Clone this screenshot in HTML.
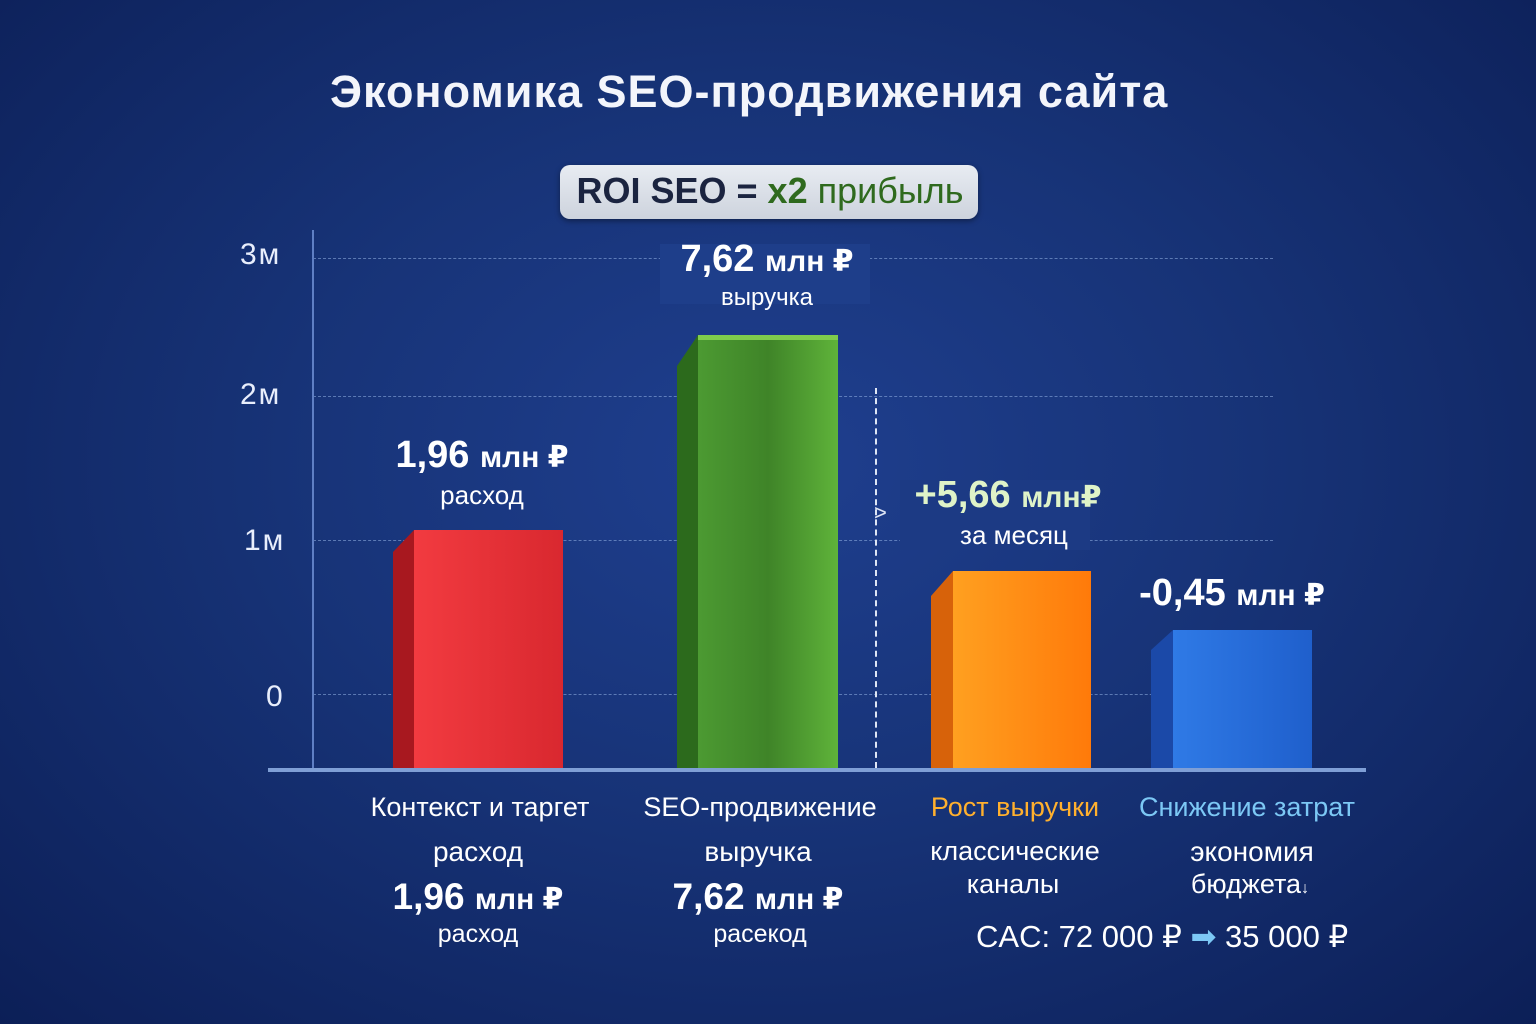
<!DOCTYPE html>
<html><head><meta charset="utf-8"><style>
body{margin:0;width:1536px;height:1024px;overflow:hidden;background:radial-gradient(ellipse at 50% 45%,#1f3f8f 0%,#173377 45%,#0c1f57 100%);font-family:"Liberation Sans","DejaVu Sans",sans-serif;color:#fff;position:relative}
.a{position:absolute;white-space:nowrap}
.c{transform:translateX(-50%);text-align:center}
.g{position:absolute;left:313px;width:960px;border-top:1px dashed rgba(150,180,230,.55)}
.yl{position:absolute;font-size:30px;color:#e8eefc;left:240px;letter-spacing:2px}
</style></head><body>
<div class="a" style="left:330px;top:66px;font-size:45px;font-weight:bold;color:#f3f5fb;letter-spacing:1px">Экономика SEO-продвижения сайта</div>
<div class="a" style="left:560px;top:165px;width:418px;height:54px;border-radius:10px;background:linear-gradient(#e8ecf2,#cdd3dd);box-shadow:0 2px 6px rgba(0,0,0,.4)"></div>
<div class="a c" style="left:770px;top:170px;font-size:36px;font-weight:bold;color:#1b2440">ROI SEO = <span style="color:#2f6a1e">x2</span> <span style="color:#2f6a1e;font-weight:normal">прибыль</span></div>

<div class="g" style="top:258px"></div><div class="g" style="top:396px"></div><div class="g" style="top:540px"></div><div class="g" style="top:694px"></div>
<div class="yl" style="top:238px">3м</div><div class="yl" style="top:378px">2м</div><div class="yl" style="top:524px;left:244px">1м</div><div class="yl" style="top:680px;left:266px">0</div>
<div class="a" style="left:312px;top:230px;width:2px;height:540px;background:#5f7fc4"></div>
<div class="a" style="left:875px;top:388px;height:380px;border-left:2px dashed #dfe6f5"></div>
<div class="a" style="left:874px;top:500px;font-size:22px;color:#dfe6f5">&gt;</div>

<svg class="a" style="left:0;top:0" width="1536" height="1024">
<defs>
<linearGradient id="r" x1="0" x2="1"><stop offset="0" stop-color="#f23b40"/><stop offset="1" stop-color="#d9282f"/></linearGradient>
<linearGradient id="gr" x1="0" x2="1"><stop offset="0" stop-color="#4c9a32"/><stop offset=".5" stop-color="#3f8428"/><stop offset="1" stop-color="#5fb33a"/></linearGradient>
<linearGradient id="o" x1="0" x2="1"><stop offset="0" stop-color="#ffa020"/><stop offset="1" stop-color="#ff7a0a"/></linearGradient>
<linearGradient id="b" x1="0" x2="1"><stop offset="0" stop-color="#2f7ae6"/><stop offset="1" stop-color="#1f5fcc"/></linearGradient>
</defs>
<polygon points="393,552 414,530 414,770 393,770" fill="#a8181f"/><rect x="414" y="530" width="149" height="240" fill="url(#r)"/>
<polygon points="677,366 698,335 698,770 677,770" fill="#2c6a1c"/><rect x="698" y="335" width="140" height="435" fill="url(#gr)"/><rect x="698" y="335" width="140" height="5" fill="#7fcc4c"/>
<polygon points="931,596 953,571 953,770 931,770" fill="#d7620a"/><rect x="953" y="571" width="138" height="199" fill="url(#o)"/>
<polygon points="1151,650 1173,630 1173,770 1151,770" fill="#1b49a8"/><rect x="1173" y="630" width="139" height="140" fill="url(#b)"/>
</svg>
<div class="a" style="left:268px;top:768px;width:1098px;height:4px;background:#7f9fd6"></div>

<div class="a" style="left:660px;top:244px;width:210px;height:60px;background:#1e3e8a"></div>
<div class="a c" style="left:767px;top:238px;font-size:38px;font-weight:bold">7,62 <span style="font-size:30px">млн ₽</span></div>
<div class="a c" style="left:767px;top:284px;font-size:24px">выручка</div>
<div class="a c" style="left:482px;top:434px;font-size:38px;font-weight:bold">1,96 <span style="font-size:30px">млн ₽</span></div>
<div class="a c" style="left:482px;top:480px;font-size:26px">расход</div>
<div class="a" style="left:900px;top:480px;width:190px;height:70px;background:#1c3a84"></div>
<div class="a c" style="left:1008px;top:474px;font-size:38px;font-weight:bold;color:#dff3c8">+5,66 <span style="font-size:30px">млн₽</span></div>
<div class="a c" style="left:1014px;top:520px;font-size:26px">за месяц</div>
<div class="a c" style="left:1232px;top:572px;font-size:38px;font-weight:bold">-0,45 <span style="font-size:30px">млн ₽</span></div>

<div class="a c" style="left:480px;top:792px;font-size:27px">Контекст и таргет</div>
<div class="a c" style="left:478px;top:836px;font-size:28px">расход</div>
<div class="a c" style="left:478px;top:876px;font-size:37px;font-weight:bold">1,96 <span style="font-size:30px">млн ₽</span></div>
<div class="a c" style="left:478px;top:920px;font-size:25px">расход</div>
<div class="a c" style="left:760px;top:792px;font-size:27px">SEO-продвижение</div>
<div class="a c" style="left:758px;top:836px;font-size:28px">выручка</div>
<div class="a c" style="left:758px;top:876px;font-size:37px;font-weight:bold">7,62 <span style="font-size:30px">млн ₽</span></div>
<div class="a c" style="left:760px;top:920px;font-size:25px">расекод</div>
<div class="a c" style="left:1015px;top:792px;font-size:27px;color:#ffb02e">Рост выручки</div>
<div class="a c" style="left:1015px;top:836px;font-size:27px">классические</div>
<div class="a c" style="left:1013px;top:869px;font-size:27px">каналы</div>
<div class="a c" style="left:1247px;top:792px;font-size:27px;color:#7cc8f5">Снижение затрат</div>
<div class="a c" style="left:1252px;top:836px;font-size:28px">экономия</div>
<div class="a c" style="left:1250px;top:869px;font-size:27px">бюджета<span style="font-size:16px">↓</span></div>
<div class="a" style="left:976px;top:919px;font-size:31px">CAC: 72 000 ₽ <span style="color:#7cc8f5">➡</span> 35 000 ₽</div>
</body></html>
